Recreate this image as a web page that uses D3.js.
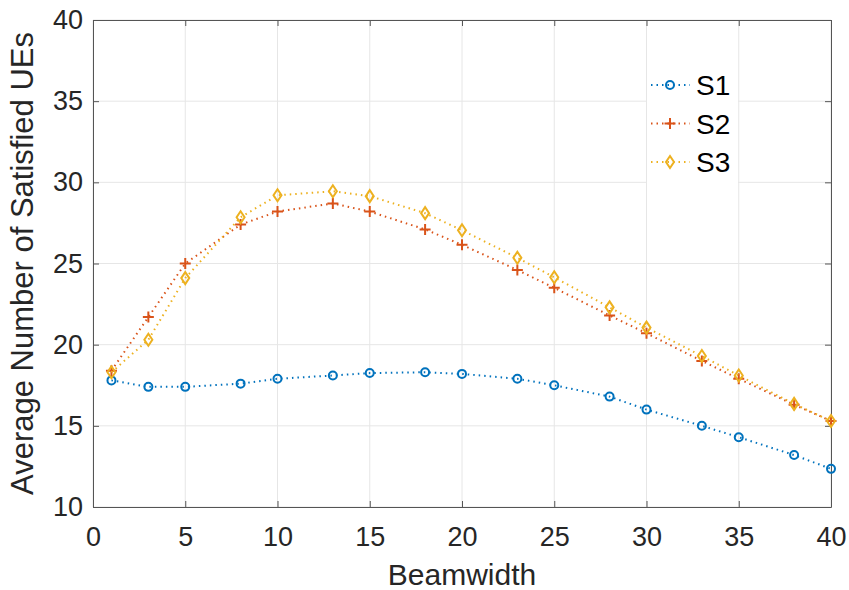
<!DOCTYPE html>
<html>
<head>
<meta charset="utf-8">
<script src="https://cdn.jsdelivr.net/npm/d3@7"></script>
<style>
  body { margin: 0; background: #fff; }
  text { font-family: "Liberation Sans", Arial, sans-serif; }
</style>
</head>
<body>
<div id="chart"></div>
<script>
// beamwidth values and the three series
var beamwidth = [1, 3, 5, 8, 10, 13, 15, 18, 20, 23, 25, 28, 30, 33, 35, 38, 40];
var s1 = [17.8, 17.4, 17.4, 17.6, 17.9, 18.1, 18.25, 18.3, 18.2, 17.9, 17.5, 16.8, 16.0, 15.0, 14.3, 13.2, 12.35];
var s2 = [18.4, 21.7, 25.0, 27.4, 28.2, 28.7, 28.2, 27.1, 26.15, 24.6, 23.5, 21.8, 20.7, 19.0, 17.9, 16.3, 15.3];
var s3 = [18.3, 20.3, 24.1, 27.85, 29.2, 29.45, 29.15, 28.1, 27.05, 25.35, 24.15, 22.3, 21.05, 19.3, 18.1, 16.35, 15.3];
var seriesNames = ["S1", "S2", "S3"];
var xTicks = [0, 5, 10, 15, 20, 25, 30, 35, 40];
var yTicks = [10, 15, 20, 25, 30, 35, 40];

var width = 849, height = 590;
var margin = {top: 20, right: 18, bottom: 83, left: 93};

var colors = ["#0072BD", "#D95319", "#EDB120"];
var markers = ["circle", "plus", "diamond"];

var svg = d3.select("#chart").append("svg")
    .attr("width", width)
    .attr("height", height);

var xScale = d3.scaleLinear().domain([0, 40]).range([margin.left, width - margin.right]);
var yScale = d3.scaleLinear().domain([10, 40]).range([height - margin.bottom, margin.top]);

// grid lines
svg.append("g")
    .selectAll("line")
    .data(xTicks)
    .enter().append("line")
    .attr("x1", d => xScale(d)).attr("x2", d => xScale(d))
    .attr("y1", yScale(10)).attr("y2", yScale(40))
    .attr("stroke", "#e6e6e6");
svg.append("g")
    .selectAll("line")
    .data(yTicks)
    .enter().append("line")
    .attr("x1", xScale(0)).attr("x2", xScale(40))
    .attr("y1", d => yScale(d)).attr("y2", d => yScale(d))
    .attr("stroke", "#e6e6e6");

// axes (ticks point inward like matlab)
var xAxis = d3.axisBottom(xScale).tickValues(xTicks).tickSizeInner(-6).tickSizeOuter(0).tickPadding(20);
var yAxis = d3.axisLeft(yScale).tickValues(yTicks).tickSizeInner(-6).tickSizeOuter(0).tickPadding(10);

svg.append("g")
    .attr("transform", `translate(0,${yScale(10)})`)
    .call(xAxis)
    .call(g => g.select(".domain").attr("stroke", "#555"))
    .call(g => g.selectAll(".tick line").attr("stroke", "#555"))
    .call(g => g.selectAll("text").attr("fill", "#262626").style("font-size", "27px"));

svg.append("g")
    .attr("transform", `translate(${xScale(0)},0)`)
    .call(yAxis)
    .call(g => g.select(".domain").attr("stroke", "#555"))
    .call(g => g.selectAll(".tick line").attr("stroke", "#555"))
    .call(g => g.selectAll("text").attr("fill", "#262626").style("font-size", "27px"));

// top and right box lines with ticks
svg.append("g")
    .attr("transform", `translate(0,${yScale(40)})`)
    .call(d3.axisTop(xScale).tickValues(xTicks).tickSizeInner(-6).tickSizeOuter(0).tickFormat(""))
    .call(g => g.selectAll("path,line").attr("stroke", "#555"));
svg.append("g")
    .attr("transform", `translate(${xScale(40)},0)`)
    .call(d3.axisRight(yScale).tickValues(yTicks).tickSizeInner(-6).tickSizeOuter(0).tickFormat(""))
    .call(g => g.selectAll("path,line").attr("stroke", "#555"));

// axis labels
svg.append("text")
    .attr("x", (xScale(0) + xScale(40)) / 2)
    .attr("y", 585)
    .attr("text-anchor", "middle")
    .attr("fill", "#262626")
    .style("font-size", "30px")
    .text("Beamwidth");

svg.append("text")
    .attr("transform", `translate(33,${(yScale(10) + yScale(40)) / 2}) rotate(-90)`)
    .attr("text-anchor", "middle")
    .attr("fill", "#262626")
    .style("font-size", "31px")
    .text("Average Number of Satisfied UEs");

var allSeries = [s1, s2, s3];

function drawMarker(g, type, color) {
  if (type === "circle") {
    g.append("circle").attr("r", 4).attr("fill", "none").attr("stroke", color).attr("stroke-width", 2);
  } else if (type === "plus") {
    g.append("path").attr("d", "M-5.5,0H5.5M0,-5.5V5.5").attr("stroke", color).attr("stroke-width", 2);
  } else {
    g.append("path").attr("d", "M0,-6L4,0L0,6L-4,0Z").attr("fill", "none").attr("stroke", color).attr("stroke-width", 2);
  }
}

var line = d3.line()
    .x((d, i) => xScale(beamwidth[i]))
    .y(d => yScale(d));

allSeries.forEach(function(vals, k) {
  svg.append("path")
      .datum(vals)
      .attr("fill", "none")
      .attr("stroke", colors[k])
      .attr("stroke-width", 2)
      .attr("stroke-dasharray", "1.5,4")
      .attr("d", line);

  svg.append("g")
    .selectAll("g")
    .data(vals)
    .enter().append("g")
      .attr("transform", (d, i) => `translate(${xScale(beamwidth[i])},${yScale(d)})`)
      .each(function() { drawMarker(d3.select(this), markers[k], colors[k]); });
});

// legend
var legend = svg.append("g").attr("transform", "translate(647,62)");
legend.append("rect")
    .attr("width", 91).attr("height", 122)
    .attr("fill", "#fff");

seriesNames.forEach(function(name, k) {
  var y = 23 + k * 38.5;
  legend.append("line")
      .attr("x1", 4).attr("x2", 43)
      .attr("y1", y).attr("y2", y)
      .attr("stroke", colors[k])
      .attr("stroke-width", 2)
      .attr("stroke-dasharray", "1.5,4");
  var m = legend.append("g").attr("transform", `translate(23,${y})`);
  drawMarker(m, markers[k], colors[k]);
  legend.append("text")
      .attr("x", 49)
      .attr("y", y + 10)
      .attr("fill", "#000")
      .style("font-size", "28px")
      .text(name);
});
</script>
</body>
</html>
